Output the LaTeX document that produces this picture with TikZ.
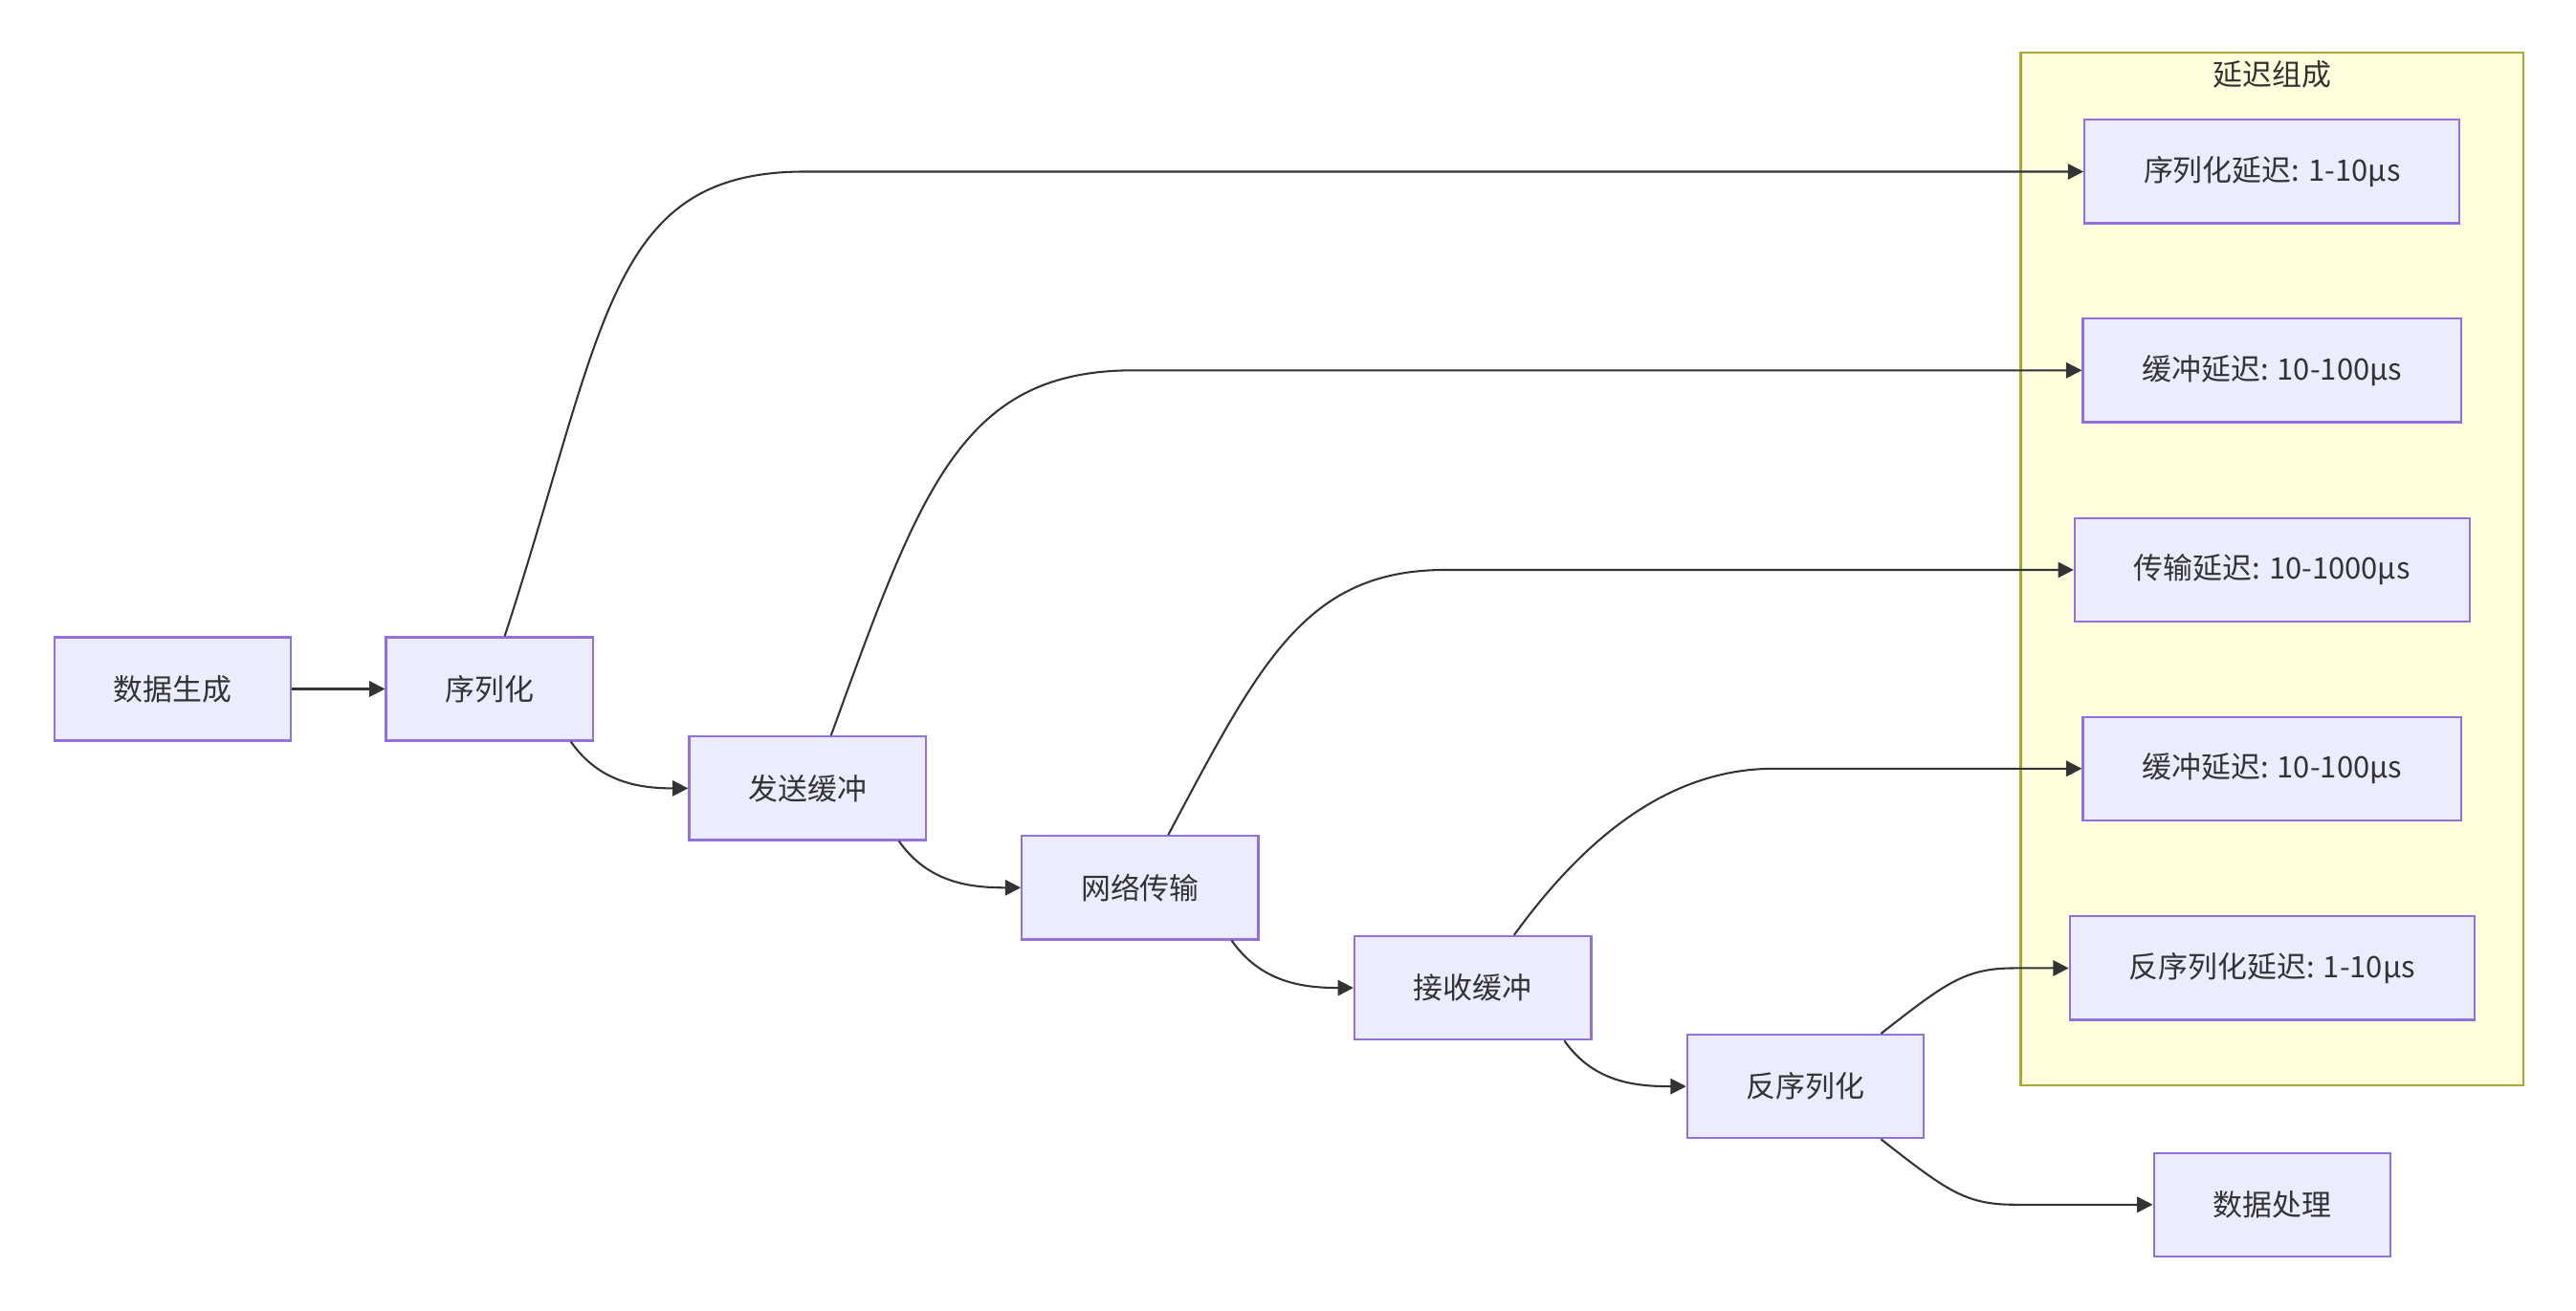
\documentclass[tikz,border=0pt]{standalone}
\usepackage{fontspec}
\setmainfont{Noto Sans CJK SC}
\usetikzlibrary{arrows.meta}

\definecolor{boxfill}{HTML}{ECECFF}
\definecolor{boxline}{HTML}{9370DB}
\definecolor{grpfill}{HTML}{FFFFDE}
\definecolor{grpline}{HTML}{AAAA33}
\definecolor{ink}{HTML}{333333}

\begin{document}
\begin{tikzpicture}[x=1pt, y=1pt,
        >={Triangle[length=9.5pt, width=9.5pt]},
        box/.style={draw=boxline, fill=boxfill, line width=1.3pt, text=ink,
            minimum height=63pt, inner xsep=36pt, font=\fontsize{18}{22}\selectfont},
        arr/.style={->, draw=ink, line width=1.2pt}]
        \fill[white] (0, 0) rectangle (1568, -797.7);

        % delay group
        \draw[draw=grpline, fill=grpfill, line width=1.2pt] (1230, -32) rectangle (1536, -661);
        \node[text=ink, font=\fontsize{18}{22}\selectfont] (grp) at (1383, -45.5) {延迟组成};
        \node[box] (serlat) at (1383, -104.5) {序列化延迟: 1-10μs};
        \node[box] (sbuflat) at (1383, -225.5) {缓冲延迟: 10-100μs};
        \node[box] (netlat) at (1383, -347) {传输延迟: 10-1000μs};
        \node[box] (rbuflat) at (1383, -468) {缓冲延迟: 10-100μs};
        \node[box] (deslat) at (1383, -589.5) {反序列化延迟: 1-10μs};

        % pipeline
        \node[box] (gen) at (105, -419.5) {数据生成};
        \node[box] (ser) at (298, -419.5) {序列化};
        \node[box] (sbuf) at (491.5, -480) {发送缓冲};
        \node[box] (net) at (694, -540.5) {网络传输};
        \node[box] (rbuf) at (896.5, -601.5) {接收缓冲};
        \node[box] (des) at (1099, -661.5) {反序列化};
        \node[box] (proc) at (1383, -733.5) {数据处理};

        \draw[arr] (gen) -- (ser);
        \draw[arr] (ser.-33) to[out=-55, in=180] (sbuf.west);
        \draw[arr] (sbuf.-30) to[out=-55, in=180] (net.west);
        \draw[arr] (net.-30) to[out=-55, in=180] (rbuf.west);
        \draw[arr] (rbuf.-30) to[out=-55, in=180] (des.west);
        \draw[arr] (des.-35) .. controls +(-38:50) and +(-30, 0) .. (1226, 0 |- proc.west) -- (proc.west);

        % stage -> delay
        \draw[arr] (ser.74) .. controls +(72:200) and +(-120, 0) .. (490, 0 |- serlat.west) -- (serlat.west);
        \draw[arr] (sbuf.66) .. controls +(70:160) and +(-105, 0) .. (690, 0 |- sbuflat.west) -- (sbuflat.west);
        \draw[arr] (net.62) .. controls +(62:120) and +(-85, 0) .. (880, 0 |- netlat.west) -- (netlat.west);
        \draw[arr] (rbuf.52) .. controls +(54:80) and +(-60, 0) .. (1080, 0 |- rbuflat.west) -- (rbuflat.west);
        \draw[arr] (des.35) .. controls +(38:50) and +(-30, 0) .. (1226, 0 |- deslat.west) -- (deslat.west);
\end{tikzpicture}
\end{document}
